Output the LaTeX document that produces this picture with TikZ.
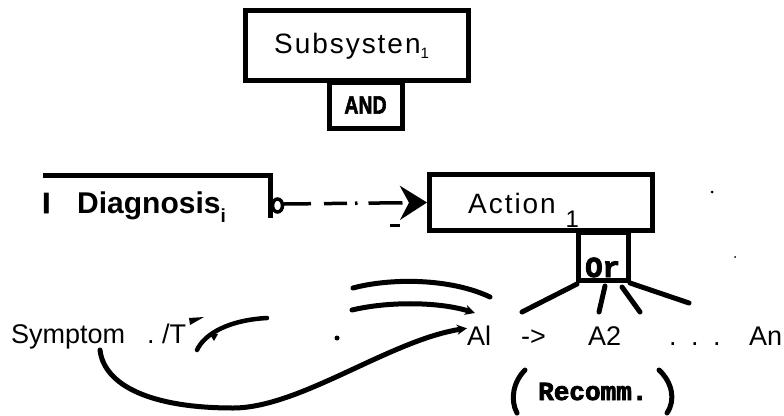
\documentclass[tikz,border=0pt]{standalone}
\usepackage{fontspec}
\setmainfont{Liberation Sans}
\newfontfamily\spacedsans{Liberation Sans}[LetterSpace=7]
\newfontfamily\heavysans{Liberation Sans}[BoldFeatures={FakeBold=2.5}]
\newfontfamily\heavymono{Liberation Mono}[BoldFeatures={FakeBold=3}]
\usetikzlibrary{arrows.meta}
\begin{document}
\begin{tikzpicture}[x=1pt,y=-1pt,
  box/.style={draw,line width=5pt,inner sep=0pt,rectangle},
  lbl/.style={inner sep=0pt,anchor=base west,font=\fontsize{27}{30}\selectfont},
  heavy/.style={line width=5pt,line cap=round},
  smalltip/.style={-{Stealth[length=10pt,width=10pt]}},
]
\useasboundingbox (0,0) rectangle (784,415);

% Subsystem with its AND gate
\node[box,minimum width=223pt,minimum height=70pt] (sub) at (356.5,45.5) {};
\node[lbl,font=\spacedsans\fontsize{28}{30}\selectfont] (subtxt) at (274,53)
  {Subsysten\raisebox{-5pt}{\fontsize{15}{15}\selectfont 1}};
\node[box,minimum width=73pt,minimum height=46pt] (and) at (365.5,105)
  {\scalebox{0.78}[1]{\heavysans\bfseries\fontsize{25}{25}\selectfont AND}};

% Diagnosis (open box)
\node[lbl,font=\heavysans\bfseries\fontsize{29}{30}\selectfont] (diagI) at (42,213) {I};
\node[lbl,font=\bfseries\fontsize{30}{30}\selectfont] (diag) at (77,213)
  {Diagnosis\raisebox{-9pt}{\fontsize{19}{19}\selectfont i}};
\draw[line width=5pt] (43,175) -- (272.5,175);
\draw[line width=5pt] (270,173) -- (270,218);
\draw[line width=3.5pt] (277.5,205.5) ellipse (5pt and 6.5pt);
\coordinate (diagR) at (284,204);

% Action with its OR gate
\node[box,minimum width=223pt,minimum height=56pt] (act) at (541,202.5) {};
\node[lbl,font=\spacedsans\fontsize{28}{30}\selectfont] (acttxt) at (468,213)
  {Action \raisebox{-14pt}{\fontsize{24}{24}\selectfont 1}};
\node[box,minimum width=50pt,minimum height=48pt] (or) at (603.5,256) {};
\node[inner sep=0pt,anchor=base west,font=\heavymono\bfseries\fontsize{29}{30}\selectfont]
  (ortxt) at (585,277) {Or};

% dashed link Diagnosis -> Action
\draw[line width=3.5pt,
      dash pattern=on 27pt off 13pt on 23pt off 8pt on 2.5pt off 11pt on 34pt,
      -{Stealth[length=27pt,width=34pt,inset=9pt]}] (diagR) -- (act.west);
\draw[line width=3pt] (390,225) -- (400,225);

% branches below the OR gate
\coordinate (b1s) at (577,284); \coordinate (b1e) at (522,312);
\coordinate (b2s) at (605,286); \coordinate (b2e) at (599,312);
\coordinate (b3s) at (622,287); \coordinate (b3e) at (640,312);
\coordinate (b4s) at (630,283); \coordinate (b4e) at (689,303);
\draw[heavy] (b1s) -- (b1e);
\draw[heavy] (b2s) -- (b2e);
\draw[heavy] (b3s) -- (b3e);
\draw[heavy] (b4s) -- (b4e);

% bottom row
\node[lbl] (sym) at (11,343) {Symptom};
\node[lbl] (symT) at (147,343) {.~/T};
\node[lbl] (a1) at (467,345) {Al};
\node[lbl] (to) at (521,345) {->};
\node[lbl] (a2) at (588,345) {A2};
\node[lbl] (dots) at (669,345) {.\hspace{14.5pt}.\hspace{14.5pt}.};
\node[lbl] (an) at (749,345) {An};
\node[inner sep=0pt,anchor=base west,font=\heavymono\bfseries\fontsize{26}{27}\selectfont]
  (rec) at (538,400) {Recomm.};
\draw[heavy] (525,370) .. controls (513,382) and (510,400) .. (517,413);
\draw[heavy] (659,370) .. controls (672,382) and (676,400) .. (667,413);

% curves in the lower left
\fill (189,318) -- (204,317) -- (190,325) -- cycle;
\coordinate (ts) at (197,350);
\coordinate (te) at (267,318);
\draw[line width=4.5pt,line cap=round] (ts) .. controls (205,333) and (230,320) .. (te);
\fill (209,333) -- (218,334) -- (214,341) -- cycle;
\fill (337,338) circle (2.5pt);

\coordinate (u1s) at (353,288); \coordinate (u1e) at (490,297);
\coordinate (u2s) at (352,310); \coordinate (u2e) at (475,313);
\draw[heavy] (u1s) .. controls (390,278) and (450,278) .. (u1e);
\draw[heavy,smalltip] (u2s) .. controls (390,301) and (440,302) .. (u2e);

\coordinate (symS) at (100,350);
\draw[heavy,smalltip] (symS) .. controls (104,385) and (150,408) .. (233,408)
  .. controls (300,408) and (390,340) .. ([yshift=-3pt]a1.north west);

% loose marks
\fill (712,192) circle (1.5pt);
\fill (735,257) circle (1pt);
\end{tikzpicture}
\end{document}
